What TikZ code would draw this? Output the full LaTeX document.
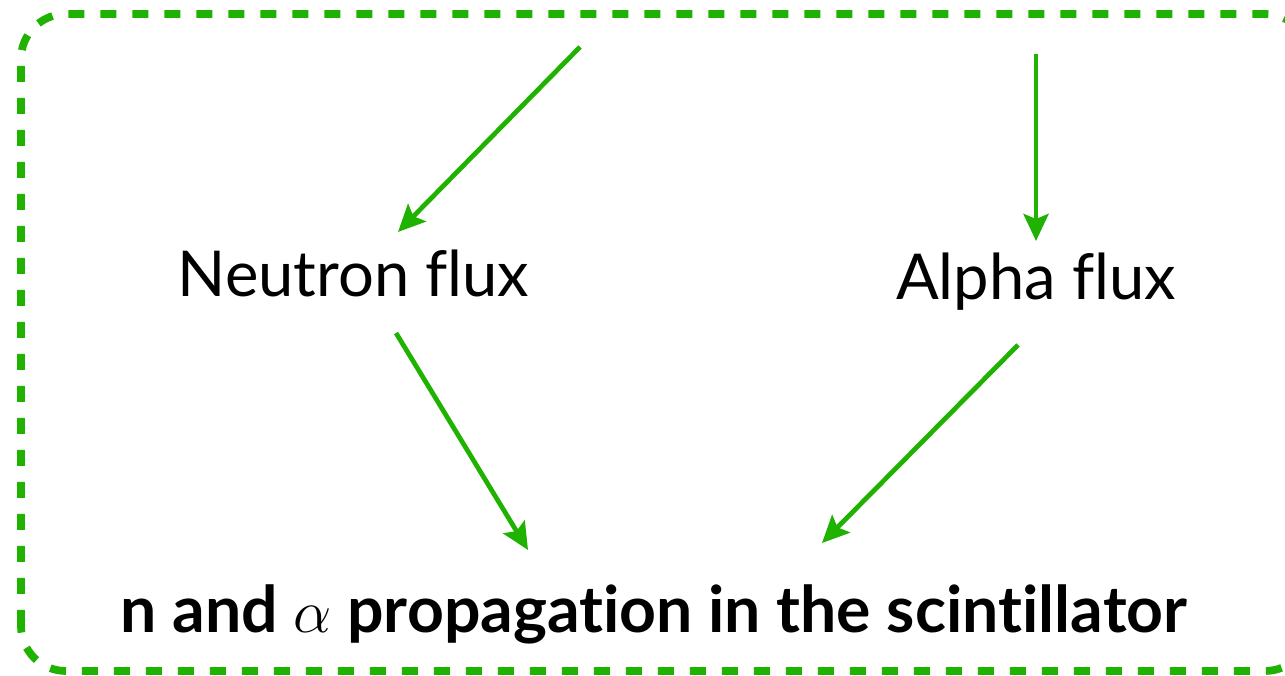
\documentclass[tikz,border=0pt]{standalone}
\usepackage{amsmath,amssymb}
\usepackage{fontspec}
\setmainfont[Ligatures=NoCommon]{Lato}
\usetikzlibrary{arrows.meta}
\definecolor{fluxgreen}{RGB}{32,178,0}

\begin{document}
\begin{tikzpicture}[every node/.style={font=\fontsize{18}{21}\selectfont},
	flow/.style={draw=fluxgreen, line width=1.35pt, -{Stealth[length=0.27cm, width=0.25cm, inset=0.05cm]}}]
	\useasboundingbox (0,0) rectangle (12.85,6.76);
	\draw[fluxgreen, line width=2.2pt, dash pattern=on 0.16cm off 0.16cm, rounded corners=0.45cm] (0.21,0.05) rectangle (13.1,6.62);
	
	\node[anchor=base] (neutron) at (3.535,3.79) {Neutron flux};
	\node[anchor=base] (alpha) at (10.36,3.76) {Alpha flux};
	\node[anchor=base, font=\fontsize{18.3}{22}\selectfont\bfseries] (scint) at (6.54,0.43) {n and $\alpha$ propagation in the scintillator};
	
	\coordinate (nsrc) at (5.80,6.29);
	\coordinate (asrc) at (10.36,6.22);
	
	\draw[flow] (nsrc) -- ([shift={(0.445,0.65)}]neutron.base);
	\draw[flow] (asrc) -- ([shift={(0,0.59)}]alpha.base);
	\draw[flow] ([shift={(0.425,-0.36)}]neutron.base) -- ([shift={(-1.26,0.83)}]scint.base);
	\draw[flow] ([shift={(-0.18,-0.45)}]alpha.base) -- ([shift={(1.68,0.90)}]scint.base);
	
\end{tikzpicture}
\end{document}
